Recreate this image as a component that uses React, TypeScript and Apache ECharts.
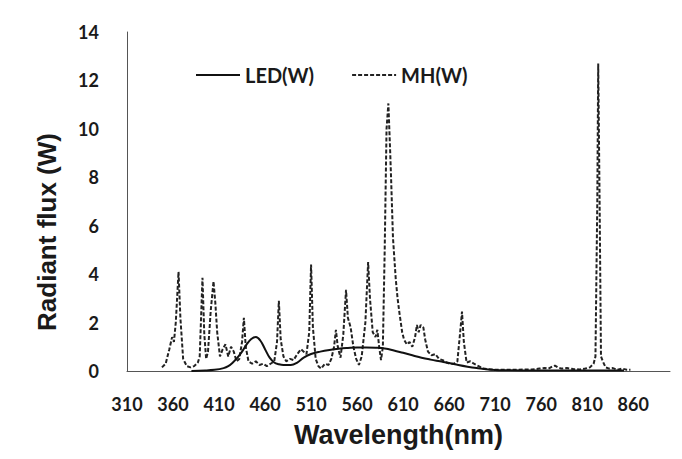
import React, { useEffect, useRef } from "react";
import * as echarts from "echarts";

const xTicks = [310, 360, 410, 460, 510, 560, 610, 660, 710, 760, 810, 860];
const yTicks = [0, 2, 4, 6, 8, 10, 12, 14];

const ledWavelengths = [380, 395, 405, 415, 420, 425, 430, 435, 440, 445, 450, 455, 460, 465, 470, 475, 480, 488, 495, 502, 510, 520, 530, 540, 550, 560, 570, 580, 590, 600, 610, 620, 630, 640, 650, 660, 670, 680, 690, 700, 710, 720, 740, 760, 800, 850];
const ledValues = [0, 0.02, 0.05, 0.12, 0.2, 0.35, 0.55, 0.8, 1.1, 1.32, 1.4, 1.25, 0.9, 0.55, 0.35, 0.28, 0.25, 0.25, 0.35, 0.55, 0.7, 0.8, 0.87, 0.92, 0.95, 0.97, 0.97, 0.96, 0.93, 0.85, 0.75, 0.65, 0.55, 0.47, 0.4, 0.33, 0.25, 0.18, 0.12, 0.07, 0.04, 0.03, 0.02, 0.02, 0.02, 0.02];

const mhWavelengths = [348, 352, 356, 359, 361, 363, 366, 368, 371, 375, 379, 383, 387, 389, 392, 394, 396, 398, 401, 404, 406, 408, 411, 414, 417, 420, 423, 426, 429, 432, 435, 437, 439, 442, 446, 450, 454, 458, 462, 466, 470, 473, 475, 477, 480, 483, 487, 491, 495, 499, 502, 505, 508, 510, 512, 515, 518, 521, 525, 529, 532, 535, 537, 539, 542, 545, 548, 550, 553, 556, 559, 562, 565, 569, 572, 574, 577, 580, 582, 584, 586, 588, 590, 592, 594, 596, 597, 599, 602, 604, 606, 609, 611, 614, 617, 620, 623, 625, 627, 629, 632, 634, 637, 641, 645, 649, 653, 657, 661, 665, 669, 672, 674, 676, 679, 683, 687, 692, 697, 703, 710, 720, 730, 740, 750, 758, 764, 768, 772, 775, 778, 782, 788, 795, 802, 808, 813, 817, 819, 821, 822, 823.5, 825, 827, 830, 834, 838, 843, 848, 853, 857];
const mhValues = [0.15, 0.3, 0.9, 1.4, 1.2, 2.0, 4.1, 2.2, 0.5, 0.2, 0.15, 0.2, 0.35, 0.6, 3.85, 1.5, 0.5, 0.8, 2.5, 3.7, 2.8, 1.6, 0.6, 0.9, 1.1, 0.6, 1.0, 0.8, 0.4, 0.5, 1.2, 2.2, 1.0, 0.4, 0.3, 0.4, 0.25, 0.3, 0.2, 0.3, 0.4, 1.2, 2.9, 1.3, 0.6, 0.4, 0.5, 0.45, 0.7, 0.9, 0.8, 0.7, 1.6, 4.4, 1.8, 0.5, 0.2, 0.1, 0.3, 0.25, 0.5, 1.0, 1.7, 1.0, 0.55, 1.5, 3.35, 2.2, 1.8, 1.0, 0.5, 0.25, 0.6, 2.0, 4.5, 3.0, 1.6, 1.4, 1.7, 1.0, 0.45, 1.0, 5.0, 10.0, 11.05, 9.0, 7.9, 5.5, 3.8, 3.0, 2.4, 1.6, 1.3, 1.1, 1.2, 1.0, 1.4, 1.9, 1.6, 1.9, 1.8, 1.3, 0.8, 0.65, 0.7, 0.5, 0.45, 0.35, 0.3, 0.3, 0.4, 1.6, 2.45, 1.2, 0.35, 0.4, 0.3, 0.2, 0.1, 0.07, 0.05, 0.05, 0.05, 0.06, 0.06, 0.1, 0.12, 0.1, 0.18, 0.22, 0.15, 0.1, 0.12, 0.08, 0.06, 0.1, 0.15, 0.3, 0.6, 7.0, 12.7, 7.0, 0.6, 0.4, 0.15, 0.1, 0.12, 0.05, 0.1, 0.05, 0.05];

const seriesNames = ["LED(W)", "MH(W)"];
const xAxisTitle = "Wavelength(nm)";
const yAxisTitle = "Radiant flux (W)";

export default function App() {
  const ref = useRef<HTMLDivElement>(null);
  useEffect(() => {
    document.body.style.margin = "0";
    if (!ref.current) return;
    const chart = echarts.init(ref.current, undefined, { renderer: "svg" });
    const led = ledWavelengths.map((w, i) => [w, ledValues[i]]);
    const mh = mhWavelengths.map((w, i) => [w, mhValues[i]]);
    const tickFont = { fontFamily: "Lato", fontWeight: "bold" as const, fontSize: 18, color: "#1a1a1a" };
    chart.setOption({
      animation: false,
      backgroundColor: "#ffffff",
      grid: { left: 127, right: 12, top: 32, bottom: 88, containLabel: false },
      legend: {
        left: 190,
        top: 60,
        itemWidth: 44,
        itemHeight: 14,
        itemGap: 37,
        itemStyle: { opacity: 0 },
        data: seriesNames,
        textStyle: { fontFamily: "Lato", fontSize: 20, color: "#1a1a1a", fontWeight: "bold" },
      },
      xAxis: {
        type: "value",
        min: 310,
        max: 900,
        interval: 50,
        name: xAxisTitle,
        nameLocation: "middle",
        nameGap: 50,
        nameTextStyle: { fontFamily: "Liberation Sans", fontWeight: "bold", fontSize: 27, color: "#1a1a1a" },
        splitLine: { show: false },
        axisTick: { show: false },
        axisLine: { lineStyle: { color: "#555", width: 1 } },
        axisLabel: {
          ...tickFont,
          margin: 24,
          formatter: (v: number) => (xTicks.includes(v) ? String(v) : ""),
        },
      },
      yAxis: {
        type: "value",
        min: 0,
        max: 14,
        interval: 2,
        splitLine: { show: false },
        axisTick: { show: false },
        axisLine: { show: true, lineStyle: { color: "#555", width: 1 } },
        axisLabel: {
          ...tickFont,
          margin: 28,
          formatter: (v: number) => (yTicks.includes(v) ? String(v) : ""),
        },
      },
      graphic: [
        {
          type: "text",
          x: 47,
          y: 232,
          rotation: Math.PI / 2,
          style: {
            text: yAxisTitle,
            fontFamily: "Liberation Sans",
            fontWeight: "bold",
            fontSize: 26,
            fill: "#1a1a1a",
            align: "center",
            verticalAlign: "middle",
          },
        },
      ],
      series: [
        {
          name: seriesNames[0],
          type: "line",
          data: led,
          symbol: "none",
          smooth: 0.4,
          lineStyle: { color: "#111", width: 2, type: "solid" },
          itemStyle: { color: "#111" },
          z: 3,
        },
        {
          name: seriesNames[1],
          type: "line",
          data: mh,
          symbol: "none",
          lineStyle: { color: "#222", width: 2, type: [4, 2] },
          itemStyle: { color: "#222" },
          z: 2,
        },
      ],
    });
    return () => chart.dispose();
  }, []);
  return <div ref={ref} style={{ width: 682, height: 459 }} />;
}
